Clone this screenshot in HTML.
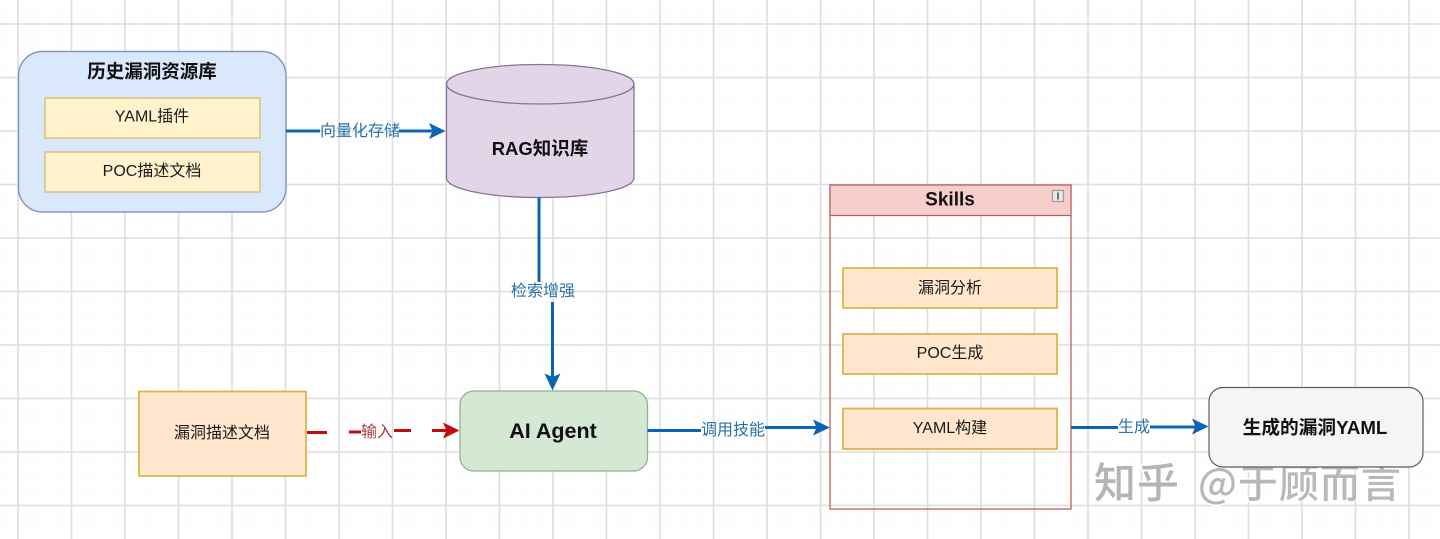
<!DOCTYPE html>
<html lang="zh">
<head>
<meta charset="utf-8">
<title>AI Agent 漏洞YAML生成流程</title>
<style>
html,body{margin:0;padding:0;background:#fff;width:1440px;height:539px;overflow:hidden}
svg{display:block;filter:blur(.35px)}
text{font-family:"Liberation Sans","Noto Sans CJK SC",sans-serif;text-anchor:middle;dominant-baseline:central;fill:#111;transform:translateY(1.5px)}
.b{font-weight:700}
.l{font-size:16px;fill:#2a71a8}
.t{font-size:16px;fill:#1a1a1a}
</style>
</head>
<body>
<svg width="1440" height="539" viewBox="0 0 1440 539" xmlns="http://www.w3.org/2000/svg">
<defs>
<pattern id="minor" patternUnits="userSpaceOnUse" x="17" y="23" width="10.7" height="10.7">
<path d="M1 0V10.7M0 1H10.7" stroke="#fbfbfb" stroke-width="1" fill="none"/>
</pattern>
<pattern id="major" patternUnits="userSpaceOnUse" x="17" y="23" width="53.5" height="53.5">
<path d="M1 0V53.5M0 1H53.5" stroke="#dedede" stroke-width="1.6" fill="none"/>
</pattern>
</defs>
<rect width="1440" height="539" fill="#fff"/>
<rect width="1440" height="539" fill="url(#minor)"/>
<rect width="1440" height="539" fill="url(#major)"/>

<!-- 水印 -->
<text x="1137" y="479" font-size="42" letter-spacing="1" style="font-family:'Noto Sans CJK SC',sans-serif;fill:#ffffff;stroke:#fff;stroke-width:3">知乎</text>
<text x="1137" y="479" font-size="42" letter-spacing="1" style="font-family:'Noto Sans CJK SC',sans-serif;font-weight:500;fill:#b4b4b4">知乎</text>
<text x="1300" y="479" font-size="40" letter-spacing="1" style="font-family:'Noto Sans CJK SC',sans-serif;fill:#ffffff;stroke:#fff;stroke-width:3">@于顾而言</text>
<text x="1300" y="479" font-size="40" letter-spacing="1" style="font-family:'Noto Sans CJK SC',sans-serif;font-weight:500;fill:#b8b8b8">@于顾而言</text>

<!-- 历史漏洞资源库 -->
<rect x="18.5" y="51.5" width="267.5" height="160.5" rx="24" fill="#dae8fc" stroke="#8497bd" stroke-width="1.5"/>
<text x="152" y="70" class="b" font-size="18.5">历史漏洞资源库</text>
<rect x="45" y="98" width="215" height="40" fill="#fff2cc" stroke="#d6c27a" stroke-width="1.5"/>
<text x="152" y="115.5" class="t">YAML插件</text>
<rect x="45" y="152" width="215" height="40" fill="#fff2cc" stroke="#d6c27a" stroke-width="1.5"/>
<text x="152" y="170" class="t">POC描述文档</text>

<!-- RAG知识库 -->
<path d="M446.5 84C446.5 73 488 64.5 540 64.5S634 73 634 84V178C634 189 592 197.5 540 197.5S446.5 189 446.5 178Z" fill="#e1d5e7" stroke="#8a7398" stroke-width="1.3"/>
<path d="M446.5 84C446.5 95 488 104 540 104S634 95 634 84" fill="none" stroke="#8a7398" stroke-width="1.3"/>
<text x="540" y="147" class="b" font-size="18.5">RAG知识库</text>

<!-- 向量化存储 -->
<path d="M286 131H320M399 131H433" stroke="#0b63b4" stroke-width="3" fill="none"/>
<path d="M445.5 131L429 123L432.5 131L429 139Z" fill="#0b63b4"/>
<text x="360" y="130" class="l">向量化存储</text>

<!-- 检索增强 -->
<path d="M539 197.5V282M552.5 302V378" stroke="#0b63b4" stroke-width="3" fill="none"/>
<path d="M552.5 390.5L544.5 373.5L552.5 377L560.5 373.5Z" fill="#0b63b4"/>
<text x="543" y="290" class="l">检索增强</text>

<!-- 漏洞描述文档 -->
<rect x="139" y="391.5" width="167" height="84.5" fill="#ffe6cc" stroke="#dcb44e" stroke-width="1.8"/>
<text x="222" y="432" class="t">漏洞描述文档</text>

<!-- 输入 -->
<path d="M307 432.5H327M349 432H361M394 430.5H411M432 430.5H447" stroke="#c00d10" stroke-width="3" fill="none"/>
<path d="M459.5 430.5L443 422.5L446.5 430.5L443 438.5Z" fill="#c00d10"/>
<text x="377" y="431" font-size="16" style="fill:#a83a44">输入</text>

<!-- AI Agent -->
<rect x="460" y="391" width="187.5" height="80" rx="14" fill="#d5e8d4" stroke="#90b48a" stroke-width="1.3"/>
<text x="553" y="429.5" class="b" font-size="21.5">AI Agent</text>

<!-- 调用技能 -->
<path d="M647.5 430.5H701M765 427.5H818" stroke="#0b63b4" stroke-width="3" fill="none"/>
<path d="M830 427.5L813 419.5L816.5 427.5L813 435.5Z" fill="#0b63b4"/>
<text x="733" y="429" class="l">调用技能</text>

<!-- Skills -->
<rect x="830" y="185" width="241" height="324" fill="#fff" fill-opacity="0" stroke="#b85450" stroke-width="1.2"/>
<rect x="830" y="185" width="241" height="30.5" fill="#f8cecc" stroke="#b0605c" stroke-width="1.2"/>
<text x="950" y="198.5" class="b" font-size="19">Skills</text>
<rect x="1052.5" y="190.5" width="11" height="11" fill="#e8e8e8" stroke="#9a9a9a" stroke-width="1.2"/>
<path d="M1058 192.5V199.5" stroke="#222" stroke-width="1.2"/>

<rect x="843" y="268" width="214" height="40" fill="#ffe6cc" stroke="#dcb44e" stroke-width="1.8"/>
<text x="950" y="287" class="t">漏洞分析</text>
<rect x="843" y="334" width="214" height="40" fill="#ffe6cc" stroke="#dcb44e" stroke-width="1.8"/>
<text x="950" y="352" class="t">POC生成</text>
<rect x="843" y="408.5" width="214" height="40.5" fill="#ffe6cc" stroke="#dcb44e" stroke-width="1.8"/>
<text x="950" y="427" class="t">YAML构建</text>

<!-- 生成 -->
<path d="M1071 427.5H1118M1150 427H1197" stroke="#0b63b4" stroke-width="3" fill="none"/>
<path d="M1208.5 426.5L1192 418.5L1195.5 426.5L1192 434.5Z" fill="#0b63b4"/>
<text x="1134" y="426" class="l">生成</text>

<!-- 生成的漏洞YAML -->
<rect x="1209" y="387.5" width="214" height="79.5" rx="14" fill="#f5f5f5" stroke="#5c5c5c" stroke-width="1.2"/>
<text x="1315" y="426" class="b" font-size="18.7">生成的漏洞YAML</text>
</svg>
</body>
</html>
